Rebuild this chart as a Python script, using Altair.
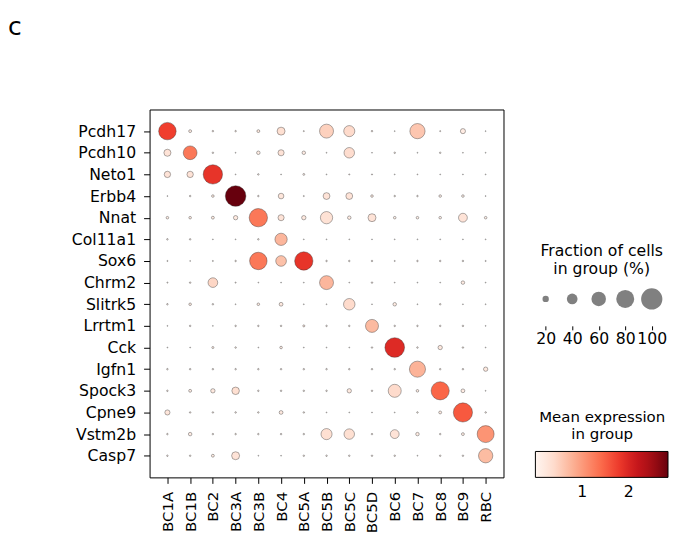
import altair as alt
import pandas as pd

genes = ["Pcdh17", "Pcdh10", "Neto1", "Erbb4", "Nnat", "Col11a1", "Sox6", "Chrm2",
         "Slitrk5", "Lrrtm1", "Cck", "Igfn1", "Spock3", "Cpne9", "Vstm2b", "Casp7"]
groups = ["BC1A", "BC1B", "BC2", "BC3A", "BC3B", "BC4", "BC5A", "BC5B", "BC5C",
          "BC5D", "BC6", "BC7", "BC8", "BC9", "RBC"]

# fraction of cells expressing (0-1), one list per gene, in group order
frac_pcdh17 = [0.77, 0.07, 0.03, 0.03, 0.07, 0.27, 0.02, 0.57, 0.42, 0.03, 0.015, 0.64, 0.02, 0.15, 0.015]
frac_pcdh10 = [0.23, 0.56, 0.03, 0.015, 0.09, 0.19, 0.09, 0.015, 0.39, 0.015, 0.03, 0.015, 0.03, 0.015, 0.015]
frac_neto1 = [0.20, 0.20, 0.88, 0.015, 0.03, 0.015, 0.04, 0.015, 0.02, 0.02, 0.015, 0.015, 0.015, 0.015, 0.015]
frac_erbb4 = [0.015, 0.03, 0.06, 0.96, 0.03, 0.17, 0.02, 0.22, 0.22, 0.06, 0.03, 0.03, 0.06, 0.06, 0.015]
frac_nnat = [0.06, 0.06, 0.07, 0.12, 0.82, 0.19, 0.12, 0.48, 0.09, 0.27, 0.06, 0.06, 0.06, 0.31, 0.06]
frac_col11a1 = [0.03, 0.03, 0.015, 0.015, 0.03, 0.48, 0.015, 0.015, 0.015, 0.015, 0.015, 0.015, 0.015, 0.015, 0.015]
frac_sox6 = [0.02, 0.015, 0.02, 0.03, 0.77, 0.40, 0.82, 0.03, 0.03, 0.03, 0.02, 0.03, 0.03, 0.03, 0.02]
frac_chrm2 = [0.02, 0.03, 0.35, 0.02, 0.015, 0.015, 0.015, 0.57, 0.015, 0.03, 0.015, 0.015, 0.015, 0.09, 0.015]
frac_slitrk5 = [0.03, 0.06, 0.03, 0.015, 0.06, 0.10, 0.015, 0.015, 0.44, 0.015, 0.09, 0.015, 0.03, 0.015, 0.015]
frac_lrrtm1 = [0.015, 0.03, 0.015, 0.03, 0.03, 0.03, 0.045, 0.03, 0.03, 0.52, 0.03, 0.03, 0.03, 0.03, 0.015]
frac_cck = [0.015, 0.015, 0.045, 0.03, 0.015, 0.06, 0.015, 0.015, 0.015, 0.03, 0.90, 0.03, 0.12, 0.03, 0.015]
frac_igfn1 = [0.03, 0.03, 0.03, 0.03, 0.03, 0.03, 0.03, 0.03, 0.03, 0.03, 0.03, 0.69, 0.03, 0.03, 0.12]
frac_spock3 = [0.03, 0.07, 0.12, 0.25, 0.03, 0.03, 0.03, 0.03, 0.12, 0.03, 0.52, 0.06, 0.81, 0.10, 0.015]
frac_cpne9 = [0.15, 0.03, 0.03, 0.03, 0.03, 0.10, 0.03, 0.015, 0.015, 0.015, 0.015, 0.03, 0.07, 0.87, 0.03]
frac_vstm2b = [0.03, 0.09, 0.03, 0.03, 0.03, 0.03, 0.03, 0.42, 0.39, 0.03, 0.31, 0.09, 0.03, 0.07, 0.74]
frac_casp7 = [0.03, 0.03, 0.07, 0.27, 0.015, 0.015, 0.03, 0.03, 0.03, 0.03, 0.03, 0.015, 0.03, 0.03, 0.59]

# mean expression in group
expr_pcdh17 = [1.75, 0.15, 0.10, 0.10, 0.20, 0.35, 0.10, 0.50, 0.40, 0.10, 0.05, 0.60, 0.10, 0.15, 0.05]
expr_pcdh10 = [0.30, 1.30, 0.10, 0.05, 0.15, 0.30, 0.15, 0.05, 0.38, 0.05, 0.10, 0.05, 0.10, 0.05, 0.05]
expr_neto1 = [0.30, 0.30, 1.85, 0.05, 0.10, 0.05, 0.10, 0.05, 0.08, 0.08, 0.05, 0.05, 0.05, 0.05, 0.05]
expr_erbb4 = [0.05, 0.10, 0.15, 2.84, 0.10, 0.25, 0.05, 0.30, 0.30, 0.15, 0.10, 0.10, 0.10, 0.10, 0.05]
expr_nnat = [0.15, 0.15, 0.15, 0.20, 1.30, 0.30, 0.20, 0.32, 0.15, 0.30, 0.10, 0.10, 0.10, 0.30, 0.10]
expr_col11a1 = [0.10, 0.10, 0.05, 0.05, 0.10, 0.75, 0.05, 0.05, 0.05, 0.05, 0.05, 0.05, 0.05, 0.05, 0.05]
expr_sox6 = [0.05, 0.05, 0.05, 0.10, 1.30, 0.65, 1.85, 0.10, 0.10, 0.10, 0.05, 0.10, 0.10, 0.10, 0.05]
expr_chrm2 = [0.05, 0.10, 0.45, 0.05, 0.05, 0.05, 0.05, 0.75, 0.05, 0.10, 0.05, 0.05, 0.05, 0.15, 0.05]
expr_slitrk5 = [0.10, 0.15, 0.10, 0.05, 0.15, 0.20, 0.05, 0.05, 0.40, 0.05, 0.15, 0.05, 0.10, 0.05, 0.05]
expr_lrrtm1 = [0.05, 0.10, 0.05, 0.10, 0.10, 0.10, 0.15, 0.10, 0.10, 0.72, 0.10, 0.10, 0.10, 0.10, 0.05]
expr_cck = [0.05, 0.05, 0.15, 0.10, 0.05, 0.15, 0.05, 0.05, 0.05, 0.10, 1.95, 0.10, 0.20, 0.10, 0.05]
expr_igfn1 = [0.10, 0.10, 0.10, 0.10, 0.10, 0.10, 0.10, 0.10, 0.10, 0.10, 0.10, 0.78, 0.10, 0.10, 0.20]
expr_spock3 = [0.10, 0.15, 0.20, 0.35, 0.10, 0.10, 0.10, 0.10, 0.20, 0.10, 0.40, 0.15, 1.45, 0.15, 0.05]
expr_cpne9 = [0.25, 0.10, 0.10, 0.10, 0.10, 0.20, 0.10, 0.05, 0.05, 0.05, 0.05, 0.10, 0.15, 1.55, 0.10]
expr_vstm2b = [0.10, 0.15, 0.10, 0.10, 0.10, 0.10, 0.10, 0.35, 0.35, 0.10, 0.30, 0.15, 0.10, 0.15, 1.05]
expr_casp7 = [0.10, 0.10, 0.15, 0.30, 0.05, 0.05, 0.10, 0.10, 0.10, 0.10, 0.10, 0.05, 0.10, 0.10, 0.70]

frac_rows = [frac_pcdh17, frac_pcdh10, frac_neto1, frac_erbb4, frac_nnat, frac_col11a1,
             frac_sox6, frac_chrm2, frac_slitrk5, frac_lrrtm1, frac_cck, frac_igfn1,
             frac_spock3, frac_cpne9, frac_vstm2b, frac_casp7]
expr_rows = [expr_pcdh17, expr_pcdh10, expr_neto1, expr_erbb4, expr_nnat, expr_col11a1,
             expr_sox6, expr_chrm2, expr_slitrk5, expr_lrrtm1, expr_cck, expr_igfn1,
             expr_spock3, expr_cpne9, expr_vstm2b, expr_casp7]

legend_pcts = [20, 40, 60, 80, 100]
color_ticks = [1, 2]
expr_max = 2.84
# matplotlib "Reds" colour map stops
reds = ["#fff5f0", "#fee0d2", "#fcbba1", "#fc9272", "#fb6a4a",
        "#ef3b2c", "#cb181d", "#a50f15", "#67000d"]

records = []
for g, fr, ex in zip(genes, frac_rows, expr_rows):
    for grp, f, e in zip(groups, fr, ex):
        records.append({"gene": g, "group": grp, "frac": f, "expr": e})
df = pd.DataFrame(records)

leg_df = pd.DataFrame({"pct": legend_pcts, "frac": [p / 100 for p in legend_pcts]})

FONT = "DejaVu Sans"
FS = 15.7

size_scale = alt.Scale(type="pow", exponent=1.5, domain=[0, 1], range=[0, 455])
color_domain = [expr_max * i / (len(reds) - 1) for i in range(len(reds))]
color_scale = alt.Scale(domain=color_domain, range=reds, interpolate="rgb")

main = alt.Chart(df).mark_circle(opacity=1, stroke="#333333", strokeWidth=0.4).encode(
    x=alt.X("group:N", sort=groups,
            scale=alt.Scale(type="point", padding=0.785),
            axis=alt.Axis(title=None, labelAngle=270, labelPadding=8, labelFontSize=15)),
    y=alt.Y("gene:N", sort=genes,
            scale=alt.Scale(type="point", padding=1.02),
            axis=alt.Axis(title=None, labelPadding=8)),
    size=alt.Size("frac:Q", scale=size_scale, legend=None),
    color=alt.Color("expr:Q", scale=color_scale,
                    legend=alt.Legend(
                        orient="none", legendX=387, legendY=301,
                        direction="horizontal",
                        title=["Mean expression", "in group"],
                        titleAnchor="middle", titleAlign="center",
                        titleFont=FONT, titleFontSize=15, titleFontWeight="normal",
                        titleColor="black", titleLineHeight=18, titlePadding=9,
                        gradientLength=133, gradientThickness=26,
                        gradientStrokeColor="black", gradientStrokeWidth=1,
                        values=color_ticks, labelFont=FONT, labelFontSize=FS,
                        labelColor="black", labelOffset=8)),
).properties(width=355, height=369)

spacer = alt.Chart(pd.DataFrame({"v": [0]})).mark_point(opacity=0).encode(
    x=alt.X("v:Q", axis=None),
    y=alt.Y("v:Q", axis=None),
).properties(width=133, height=132, view=alt.ViewBackground(stroke="transparent"))

sizeleg = alt.Chart(leg_df).mark_circle(color="#808080", opacity=1).encode(
    x=alt.X("pct:O", sort=legend_pcts,
            scale=alt.Scale(type="point", padding=0.5),
            axis=alt.Axis(title=None, labelAngle=0, labelOverlap=False, offset=8,
                          tickSize=4, labelPadding=2)),
    size=alt.Size("frac:Q", scale=size_scale, legend=None),
).properties(
    width=133, height=38,
    view=alt.ViewBackground(stroke="transparent"),
    title=alt.Title(["Fraction of cells", "in group (%)"], font=FONT, fontSize=FS,
                    fontWeight="normal", color="black", anchor="middle",
                    lineHeight=18.5, offset=2, dx=3),
)

right = alt.vconcat(spacer, sizeleg, spacing=0)

chart = alt.hconcat(main, right, spacing=27).properties(
    title=alt.Title("c", anchor="start", font=FONT, fontSize=25, fontWeight="normal",
                    color="black", dx=-63, offset=69),
    padding={"left": 0, "top": 6, "right": 0, "bottom": 0},
).configure_view(stroke="black", strokeWidth=1).configure_axis(
    grid=False, domain=False, ticks=True, tickColor="black", tickSize=6, tickWidth=1,
    labelFont=FONT, labelFontSize=FS, labelColor="black",
)

chart.save("out.html", embed_options={"renderer": "svg", "actions": False})
